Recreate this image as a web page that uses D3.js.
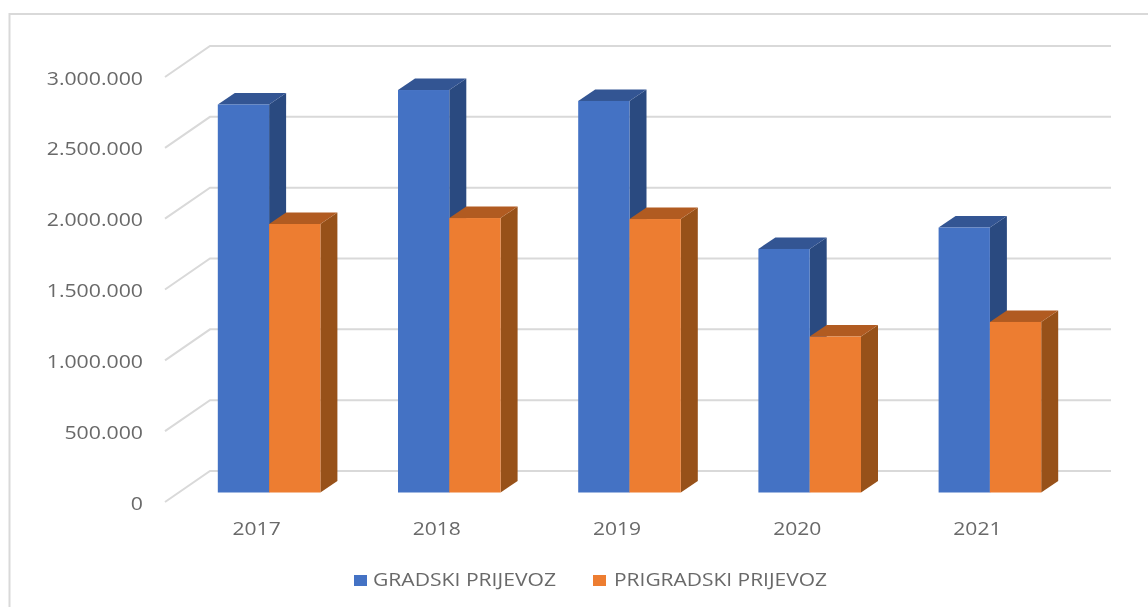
<!DOCTYPE html>
<html><head><meta charset="utf-8">
<script src="https://cdn.jsdelivr.net/npm/d3@7/dist/d3.min.js"></script>
<style>html,body{margin:0;padding:0;background:#fff;overflow:hidden}svg{display:block;filter:blur(.45px)}text{font-family:"Open Sans",sans-serif;fill:#696969}</style>
</head><body><div id="c"></div>
<script>
const years = ["2017","2018","2019","2020","2021"];
const gradski = [2737000,2839000,2762000,1718000,1869000];
const prigradski = [1894000,1936000,1929000,1100000,1203000];
const seriesNames = ["GRADSKI PRIJEVOZ","PRIGRADSKI PRIJEVOZ"];
const ticks = [0,500000,1000000,1500000,2000000,2500000,3000000];
const tickLabels = ["0","500.000","1.000.000","1.500.000","2.000.000","2.500.000","3.000.000"];

const W=1148,H=607;
const svg=d3.select("#c").append("svg").attr("width",W).attr("height",H);
svg.append("path").attr("d",`M${W+2},14H9.5V${H+2}`).attr("fill","none").attr("stroke","#d9d9d9").attr("stroke-width",2);

const yWall=d3.scaleLinear().domain([0,3000000]).range([471,46]);
const yBar=d3.scaleLinear().domain([0,3000000]).range([492.5,67.2]);
const x=d3.scaleBand().domain(years).range([179,1080]).paddingInner(0).paddingOuter(0);
const barW=51.3, dx=17, dy=11.5;
const gx=x.bandwidth()/2;

const grid=svg.append("g").attr("fill","none").attr("stroke","#d9d9d9").attr("stroke-width",2);
grid.selectAll("path").data(ticks).join("path")
  .attr("d",d=>`M165,${yWall(d)+31}L210,${yWall(d)}H1111`);

svg.append("g").selectAll("text").data(ticks).join("text")
  .attr("transform",d=>`translate(143,${yWall(d)+31+7.6}) scale(1.12,1)`)
  .attr("text-anchor","end").attr("font-size",19)
  .text((d,i)=>tickLabels[i]);

const cols=[
 {front:"#4472c4",side:"#2a4a80",top:"#335593",off:-barW,vals:gradski},
 {front:"#ed7d31",side:"#975119",top:"#b15b21",off:0,vals:prigradski}];
const poly=a=>a.map(p=>p.join(",")).join(" ");
cols.forEach(c=>{
  const g=svg.append("g").selectAll("g").data(years.map((y,i)=>({y,v:c.vals[i]}))).join("g");
  const X=d=>x(d.y)+gx+c.off;
  g.append("polygon").attr("fill",c.side).attr("points",d=>{const a=X(d)+barW,t=yBar(d.v),b=yBar(0);
    return poly([[a,t],[a+dx,t-dy],[a+dx,b-dy],[a,b]]);});
  g.append("polygon").attr("fill",c.top).attr("points",d=>{const a=X(d),t=yBar(d.v);
    return poly([[a,t],[a+dx,t-dy],[a+barW+dx,t-dy],[a+barW,t]]);});
  g.append("rect").attr("fill",c.front).attr("x",X).attr("width",barW)
    .attr("y",d=>yBar(d.v)).attr("height",d=>yBar(0)-yBar(d.v));
});

svg.append("g").selectAll("text").data(years).join("text")
  .attr("transform",d=>`translate(${x(d)+gx-12.5},534.5) scale(1.17,1)`)
  .attr("text-anchor","middle").attr("font-size",18).text(d=>d);

const legX=[354,593], legT=[373,614], legW=[183,213];
const leg=svg.append("g").selectAll("g").data(seriesNames).join("g");
leg.append("rect").attr("x",(d,i)=>legX[i]).attr("y",575).attr("width",13).attr("height",11)
  .attr("fill",(d,i)=>cols[i].front);
leg.append("text").attr("x",(d,i)=>legT[i]).attr("y",586).attr("font-size",18)
  .attr("textLength",(d,i)=>legW[i]).attr("lengthAdjust","spacingAndGlyphs").text(d=>d);
</script></body></html>
